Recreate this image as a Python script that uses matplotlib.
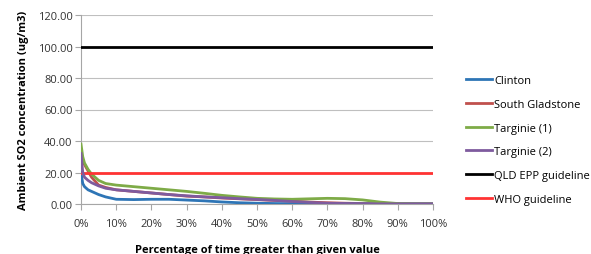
import matplotlib
matplotlib.use("Agg")
import matplotlib.pyplot as plt
import numpy as np

pct = [0, 0.5, 1, 2, 3, 5, 7, 10, 15, 20, 25, 30, 35, 40, 45, 50, 55, 60, 65, 70, 75, 80, 85, 90, 95, 100]
clinton = [20, 13, 11, 9, 8, 6, 4.5, 3, 2.8, 3, 3, 2.5, 2, 1.3, 0.8, 0.5, 0.3, 0.2, 0.1, 0.1, 0.1, 0.05, 0.05, 0.05, 0.05, 0.05]
south_gladstone = [30, 27, 25, 21, 17, 12, 10.5, 9, 8, 7, 6, 5, 4.5, 3.8, 3.3, 2.8, 2.3, 1.8, 1.2, 0.8, 0.5, 0.3, 0.2, 0.1, 0.1, 0.1]
targinie1 = [38, 30, 26, 22, 19, 15, 13, 12, 11, 10, 9, 8, 6.8, 5.5, 4.5, 3.6, 3.2, 3.0, 3.3, 3.6, 3.4, 2.6, 1.2, 0.3, 0.1, 0.1]
targinie2 = [32, 20, 17, 15, 13.5, 11.5, 10, 9, 8, 7, 6, 5.2, 4.5, 4, 3.4, 2.9, 2.3, 1.6, 1.0, 0.5, 0.3, 0.1, 0.1, 0.1, 0.1, 0.1]
qld_epp = 100.0
who = 20.0

series_names = ["Clinton", "South Gladstone", "Targinie (1)", "Targinie (2)", "QLD EPP guideline", "WHO guideline"]
colors = ["#2E75B6", "#C0504D", "#7EAB47", "#7E5B9E", "#000000", "#FF3333"]

plt.rcParams['font.family'] = ['Open Sans', 'DejaVu Sans']
fig = plt.figure(figsize=(5.91, 2.55), dpi=100)
ax = fig.add_axes([81/591, 50/255, (433-81)/591, (205-16)/255])

x = np.array(pct) / 100.0
ax.plot(x, clinton, color=colors[0], lw=2, label=series_names[0], zorder=3)
ax.plot(x, south_gladstone, color=colors[1], lw=2, label=series_names[1], zorder=2)
ax.plot(x, targinie1, color=colors[2], lw=2, label=series_names[2], zorder=3)
ax.plot(x, targinie2, color=colors[3], lw=2, label=series_names[3], zorder=4)
ax.plot([0, 1], [qld_epp, qld_epp], color=colors[4], lw=2, label=series_names[4], zorder=3)
ax.plot([0, 1], [who, who], color=colors[5], lw=2, label=series_names[5], zorder=3)

ax.set_xlim(0, 1)
ax.set_ylim(0, 120)
ax.set_yticks(np.arange(0, 121, 20))
ax.set_yticklabels([f"{v:.2f}" for v in np.arange(0, 121, 20)], fontsize=8, color="#333333")
ax.set_xticks(np.arange(0, 1.01, 0.1))
ax.set_xticklabels([f"{int(round(v*100))}%" for v in np.arange(0, 1.01, 0.1)], fontsize=8, color="#333333")
ax.grid(axis='y', color="#BFBFBF", lw=0.8)
ax.set_axisbelow(True)
for s in ['top', 'right']:
    ax.spines[s].set_visible(False)
for s in ['left', 'bottom']:
    ax.spines[s].set_color("#A6A6A6")
ax.tick_params(axis='y', length=4, color="#A6A6A6", pad=2)
ax.tick_params(axis='x', length=4, color="#A6A6A6", pad=6)

ax.set_ylabel("Ambient SO2 concentration (ug/m3)", fontsize=8, fontweight='bold', labelpad=6)
ax.set_xlabel("Percentage of time greater than given value", fontsize=8, fontweight='bold', labelpad=11)

leg = ax.legend(loc='upper left', bbox_to_anchor=(466/591, 1 - 76/255), bbox_transform=fig.transFigure,
                frameon=False, fontsize=8, handlelength=2.35, handletextpad=0.2, labelspacing=1.15,
                borderaxespad=0, borderpad=0)
fig.savefig("out.png", dpi=100)
